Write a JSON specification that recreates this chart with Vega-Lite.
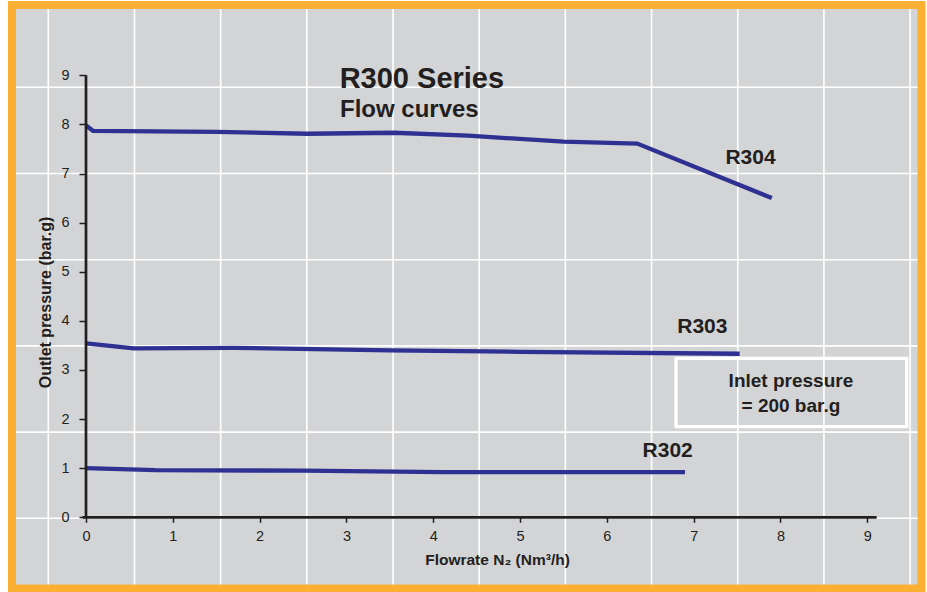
{
  "$schema": "https://vega.github.io/schema/vega-lite/v6.json",
  "width": 909.5,
  "height": 583.5,
  "autosize": {"type": "none"},
  "padding": {"left": 12, "top": 5, "right": 5.5, "bottom": 3.5},
  "background": "white",
  "view": {"fill": "#D3D4D6", "stroke": null},
  "config": {
    "view": {"fill": "#D3D4D6", "stroke": null}
  },
  "datasets": {
    "curves": [
      {"model": "R304", "flow": 0, "pressure": 7.98},
      {"model": "R304", "flow": 0.08, "pressure": 7.87},
      {"model": "R304", "flow": 1.5, "pressure": 7.85},
      {"model": "R304", "flow": 2.55, "pressure": 7.81},
      {"model": "R304", "flow": 3.55, "pressure": 7.83},
      {"model": "R304", "flow": 4.4, "pressure": 7.77},
      {"model": "R304", "flow": 5.5, "pressure": 7.65},
      {"model": "R304", "flow": 6.35, "pressure": 7.61},
      {"model": "R304", "flow": 7.9, "pressure": 6.5},
      {"model": "R303", "flow": 0, "pressure": 3.54},
      {"model": "R303", "flow": 0.55, "pressure": 3.44},
      {"model": "R303", "flow": 1.7, "pressure": 3.45},
      {"model": "R303", "flow": 3.5, "pressure": 3.4},
      {"model": "R303", "flow": 5, "pressure": 3.37},
      {"model": "R303", "flow": 7.53, "pressure": 3.33},
      {"model": "R302", "flow": 0, "pressure": 1.0},
      {"model": "R302", "flow": 0.8, "pressure": 0.96},
      {"model": "R302", "flow": 2.5, "pressure": 0.95},
      {"model": "R302", "flow": 4.1, "pressure": 0.92},
      {"model": "R302", "flow": 6.9, "pressure": 0.92}
    ],
    "labels": [
      {"model": "R304", "flow": 7.655, "pressure": 7.19},
      {"model": "R303", "flow": 7.1, "pressure": 3.75},
      {"model": "R302", "flow": 6.7, "pressure": 1.22}
    ],
    "gridCols": [
      {"line": 0}, {"line": 1}, {"line": 2}, {"line": 3}, {"line": 4}, {"line": 5},
      {"line": 6}, {"line": 7}, {"line": 8}, {"line": 9}, {"line": 10}
    ],
    "gridRows": [
      {"line": 0}, {"line": 1}, {"line": 2}, {"line": 3}, {"line": 4}, {"line": 5}
    ]
  },
  "layer": [
    {
      "layer": [
        {
          "data": {"values": [{}]},
          "mark": {"type": "rect", "color": "#D3D4D6"}
        },
        {
          "data": {"name": "gridCols"},
          "mark": {"type": "rule", "color": "#FFFFFF", "strokeWidth": 1.6},
          "encoding": {
            "x": {
              "field": "line",
              "type": "quantitative",
              "scale": {"domain": [-0.4212, 10.1323], "nice": false, "zero": false},
              "axis": null
            }
          }
        },
        {
          "data": {"name": "gridRows"},
          "mark": {"type": "rule", "color": "#FFFFFF", "strokeWidth": 1.6},
          "encoding": {
            "y": {
              "field": "line",
              "type": "quantitative",
              "scale": {"domain": [-0.8144, 5.9547], "nice": false, "zero": false},
              "axis": null
            }
          }
        }
      ]
    },
    {
      "layer": [
        {
          "data": {"name": "curves"},
          "mark": {"type": "line", "color": "#2E3192", "strokeWidth": 4.3, "strokeJoin": "miter"},
          "encoding": {
            "x": {
              "field": "flow",
              "type": "quantitative",
              "scale": {"domain": [-0.8524, 9.6245], "nice": false, "zero": false},
              "axis": {
                "orient": "bottom", "offset": -71.2, "zindex": 1, "values": [0, 1, 2, 3, 4, 5, 6, 7, 8, 9], "format": "d",
                "domain": false, "grid": false, "ticks": true, "tickSize": 5, "tickWidth": 1.5, "tickColor": "#231F20",
                "labelFont": "Liberation Sans, sans-serif", "labelFontSize": 14.5, "labelColor": "#231F20",
                "labelPadding": 7, "labelFlush": false, "labelOverlap": false,
                "title": "Flowrate N₂ (Nm³/h)", "titleFont": "Liberation Sans, sans-serif", "titleFontSize": 15.5, "titleFontWeight": "bold",
                "titleColor": "#231F20", "titleX": 485, "titleY": 47, "titleBaseline": "alphabetic", "titleAlign": "center"
              }
            },
            "y": {
              "field": "pressure",
              "type": "quantitative",
              "scale": {"domain": [-1.4498, 10.4317], "nice": false, "zero": false},
              "axis": {
                "orient": "left", "offset": -74, "zindex": 1, "values": [0, 1, 2, 3, 4, 5, 6, 7, 8, 9], "format": "d",
                "domain": false, "grid": false, "ticks": true, "tickSize": 7, "tickWidth": 1.5, "tickColor": "#231F20",
                "labelFont": "Liberation Sans, sans-serif", "labelFontSize": 14.5, "labelColor": "#231F20",
                "labelPadding": 10, "labelFlush": false, "labelOverlap": false,
                "title": "Outlet pressure (bar.g)", "titleFont": "Liberation Sans, sans-serif", "titleFontSize": 16, "titleFontWeight": "bold",
                "titleColor": "#231F20", "titleX": -36, "titleY": 297, "titleAngle": 270, "titleBaseline": "alphabetic", "titleAlign": "center"
              }
            },
            "detail": {"field": "model"}
          }
        },
        {
          "data": {"values": [{}]},
          "mark": {"type": "rule", "color": "#231F20", "strokeWidth": 2.7},
          "encoding": {
            "x": {"datum": 0, "type": "quantitative"},
            "y": {"datum": 0, "type": "quantitative"},
            "y2": {"datum": 9}
          }
        },
        {
          "data": {"values": [{}]},
          "mark": {"type": "rule", "color": "#231F20", "strokeWidth": 2.7},
          "encoding": {
            "x": {"datum": -0.04, "type": "quantitative"},
            "x2": {"datum": 9.108},
            "y": {"datum": 0, "type": "quantitative"}
          }
        },
        {
          "data": {"name": "labels"},
          "mark": {"type": "text", "font": "Liberation Sans, sans-serif", "fontSize": 21, "fontWeight": "bold", "color": "#231F20", "align": "center", "baseline": "alphabetic"},
          "encoding": {
            "x": {"field": "flow", "type": "quantitative"},
            "y": {"field": "pressure", "type": "quantitative"},
            "text": {"field": "model"}
          }
        },
        {
          "data": {"values": [{}]},
          "mark": {"type": "text", "font": "Liberation Sans, sans-serif", "fontSize": 29, "fontWeight": "bold", "color": "#231F20", "align": "left", "baseline": "alphabetic"},
          "encoding": {
            "x": {"datum": 2.922, "type": "quantitative"},
            "y": {"datum": 8.748, "type": "quantitative"},
            "text": {"value": "R300 Series"}
          }
        },
        {
          "data": {"values": [{}]},
          "mark": {"type": "text", "font": "Liberation Sans, sans-serif", "fontSize": 24, "fontWeight": "bold", "color": "#231F20", "align": "left", "baseline": "alphabetic"},
          "encoding": {
            "x": {"datum": 2.926, "type": "quantitative"},
            "y": {"datum": 8.157, "type": "quantitative"},
            "text": {"value": "Flow curves"}
          }
        },
        {
          "data": {"values": [{}]},
          "mark": {"type": "rect", "filled": false, "stroke": "#FFFFFF", "strokeWidth": 3.3},
          "encoding": {
            "x": {"datum": 6.797, "type": "quantitative"},
            "x2": {"datum": 9.454},
            "y": {"datum": 1.845, "type": "quantitative"},
            "y2": {"datum": 3.238}
          }
        },
        {
          "data": {"values": [{}]},
          "mark": {"type": "text", "font": "Liberation Sans, sans-serif", "fontSize": 19, "fontWeight": "bold", "color": "#231F20", "align": "center", "baseline": "middle", "lineHeight": 25},
          "encoding": {
            "x": {"datum": 8.12, "type": "quantitative"},
            "y": {"datum": 2.78, "type": "quantitative"},
            "text": {"value": ["Inlet pressure", "= 200 bar.g"]}
          }
        },
        {
          "data": {"values": [{}]},
          "mark": {"type": "rect", "filled": false, "stroke": "#FBB034", "strokeWidth": 8}
        }
      ]
    }
  ],
  "resolve": {
    "scale": {"x": "independent", "y": "independent"},
    "axis": {"x": "independent", "y": "independent"}
  }
}
